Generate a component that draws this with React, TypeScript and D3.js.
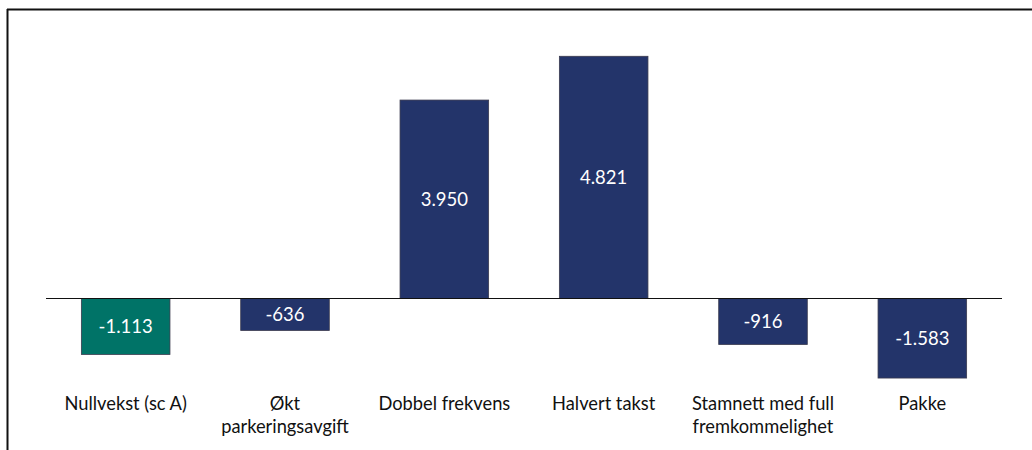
import React from "react";
import * as d3 from "d3";

const categories: string[][] = [
  ["Nullvekst (sc A)"],
  ["Økt", "parkeringsavgift"],
  ["Dobbel frekvens"],
  ["Halvert takst"],
  ["Stamnett med full", "fremkommelighet"],
  ["Pakke"],
];
const values: number[] = [-1113, -636, 3950, 4821, -916, -1583];
const valueLabels: string[] = ["-1.113", "-636", "3.950", "4.821", "-916", "-1.583"];
const highlight: boolean[] = [true, false, false, false, false, false];

const W = 1032;
const H = 450;

export default function App() {
  const x = d3
    .scaleBand<number>()
    .domain(values.map((_, i) => i))
    .range([46, 1002])
    .paddingInner(0.444)
    .paddingOuter(0.222);
  const y = d3.scaleLinear().domain([-2000, 5000]).range([399, 47.3]);
  const font = "Lato, 'Open Sans', sans-serif";
  return (
    <div style={{ position: "absolute", left: 0, top: 0 }}>
      <svg width={W} height={H} style={{ display: "block", background: "#fff" }}>
        <line x1={7} x2={W} y1={9.5} y2={9.5} stroke="#111" strokeWidth={2} />
        <line x1={7.5} x2={7.5} y1={9} y2={H} stroke="#111" strokeWidth={2} />
        {values.map((v, i) => {
          const x0 = x(i)!;
          const yTop = y(Math.max(0, v));
          const yBot = y(Math.min(0, v));
          return (
            <g key={i}>
              <rect
                x={x0}
                y={yTop}
                width={x.bandwidth()}
                height={yBot - yTop}
                fill={highlight[i] ? "#007367" : "#23346A"}
                stroke="#3b3b4f"
                strokeWidth={0.8}
              />
              <text
                x={x0 + x.bandwidth() / 2}
                y={(yTop + yBot) / 2}
                dy="0.36em"
                textAnchor="middle"
                fill="#fff"
                fontFamily={font}
                fontSize={18.5}
              >
                {valueLabels[i]}
              </text>
            </g>
          );
        })}
        <line x1={46} x2={1002} y1={y(0)} y2={y(0)} stroke="#111" strokeWidth={1} />
        {categories.map((lines, i) => (
          <text
            key={i}
            x={x(i)! + x.bandwidth() / 2}
            y={409.5}
            textAnchor="middle"
            fill="#111"
            fontFamily={font}
            fontSize={18.3}
          >
            {lines.map((l, j) => (
              <tspan key={j} x={x(i)! + x.bandwidth() / 2} dy={j === 0 ? 0 : 23.5}>
                {l}
              </tspan>
            ))}
          </text>
        ))}
      </svg>
    </div>
  );
}
